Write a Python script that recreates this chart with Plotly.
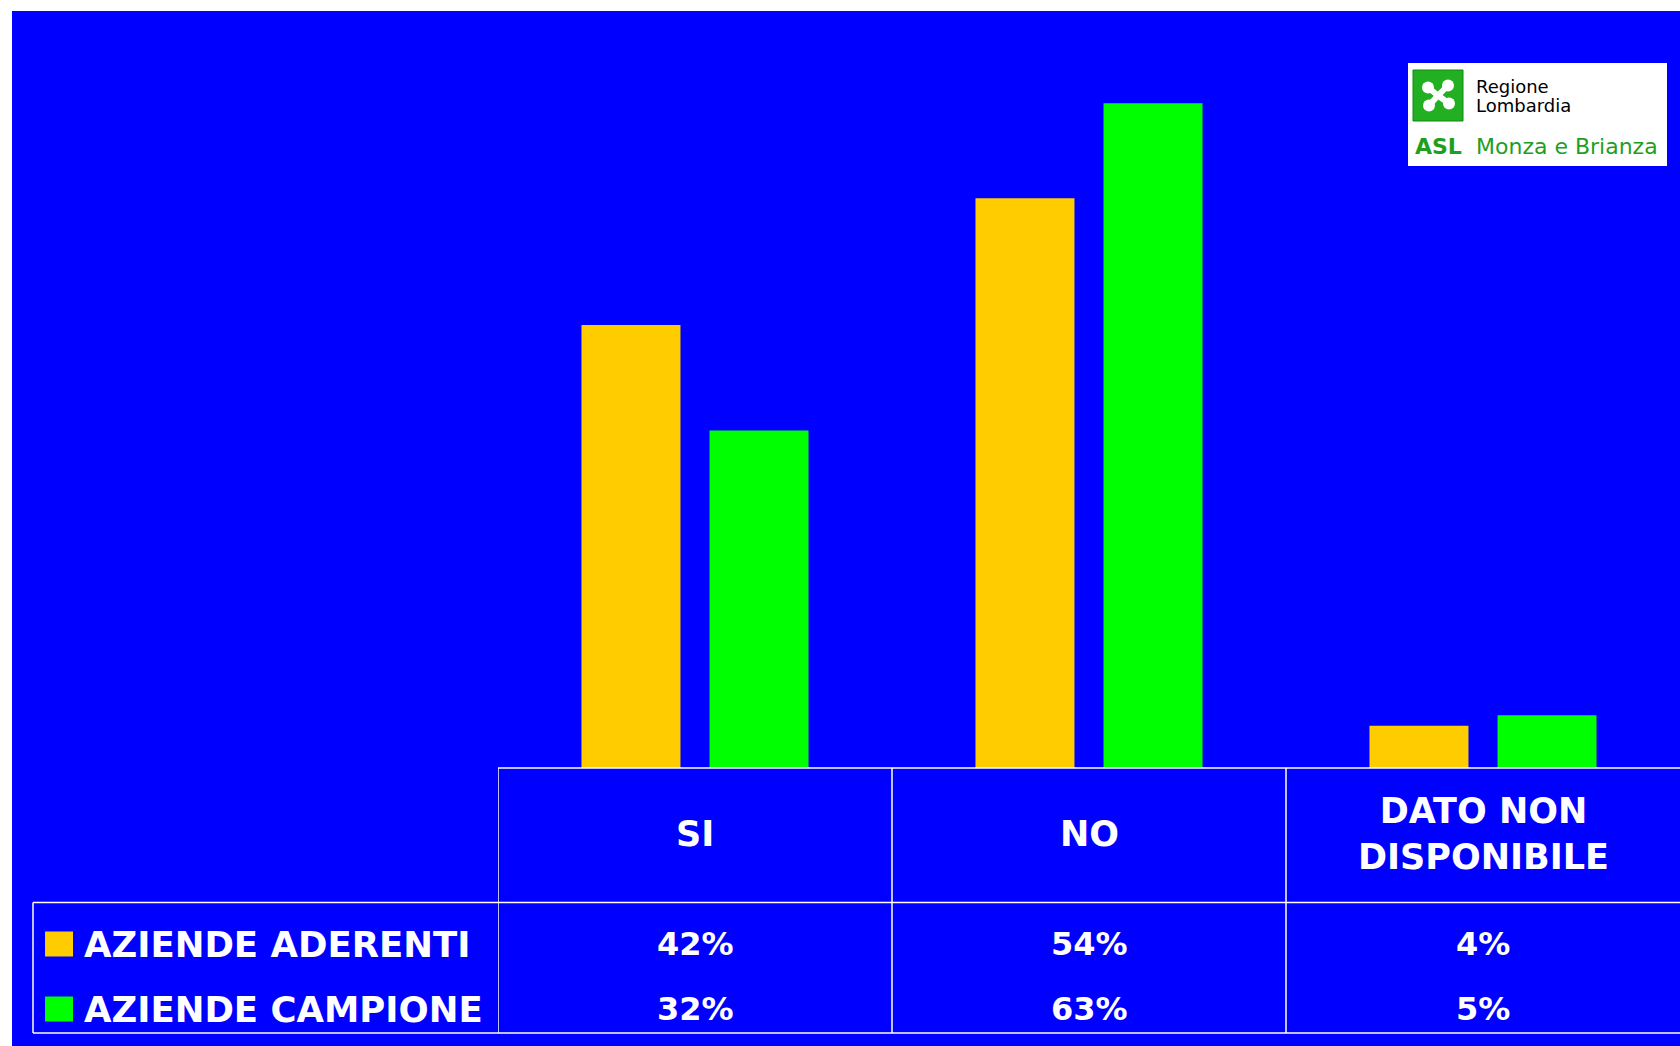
import plotly.graph_objects as go

# ---- data ----
categories = ["SI", "NO", "DATO NON<br>DISPONIBILE"]
series_names = ["AZIENDE ADERENTI", "AZIENDE CAMPIONE"]
aderenti = [42, 54, 4]
campione = [32, 63, 5]

W, H = 1680, 1046
BLUE = "#0000FF"
YELLOW = "#FFCC00"
GREEN = "#00FF00"
FONT = "Comic Sans MS, DejaVu Sans, sans-serif"

def px(x):
    return x / W

def py(y):
    return 1 - y / H

# plot area in pixels
PL, PR, PT, PB = 498, 1680, 11, 768
PX_PER_UNIT = 10.55
ymax = (PB - PT) / PX_PER_UNIT

fig = go.Figure()
fig.add_trace(go.Bar(x=categories, y=aderenti, name=series_names[0],
                     marker=dict(color=YELLOW, line=dict(width=0)), showlegend=False))
fig.add_trace(go.Bar(x=categories, y=campione, name=series_names[1],
                     marker=dict(color=GREEN, line=dict(width=0)), showlegend=False))

shapes = []
annotations = []

# blue background panel
shapes.append(dict(type="rect", xref="paper", yref="paper", x0=px(12), x1=px(W), y0=py(H), y1=py(11),
                   fillcolor=BLUE, line=dict(width=0), layer="below"))

LC = "white"
LW = 1.5
# horizontal table lines
shapes.append(dict(type="line", xref="paper", yref="paper", x0=px(PL), x1=1, y0=py(768), y1=py(768),
                   line=dict(color=LC, width=LW)))
for yy in (902.5, 1033):
    shapes.append(dict(type="line", xref="paper", yref="paper", x0=px(33), x1=1, y0=py(yy), y1=py(yy),
                       line=dict(color=LC, width=LW)))
# vertical lines
shapes.append(dict(type="line", xref="paper", yref="paper", x0=px(33), x1=px(33), y0=py(902.5), y1=py(1033),
                   line=dict(color=LC, width=LW)))
for i in range(len(categories)):
    shapes.append(dict(type="line", xref="x", yref="paper", x0=i - 0.5, x1=i - 0.5, y0=py(768), y1=py(1033),
                       line=dict(color=LC, width=LW)))

# header labels
for i, c in enumerate(categories):
    annotations.append(dict(x=i, xref="x", y=py(834), yref="paper", text="<b>" + c + "</b>",
                            showarrow=False, xanchor="center", yanchor="middle",
                            font=dict(family=FONT, size=35, color="white")))

# value rows
row_y = [944, 1009]
for vals, ry in zip([aderenti, campione], row_y):
    for i, v in enumerate(vals):
        annotations.append(dict(x=i, xref="x", y=py(ry), yref="paper", text=f"<b>{v}%</b>",
                                showarrow=False, xanchor="center", yanchor="middle",
                                font=dict(family=FONT, size=32, color="white")))

# legend in table
for name, col, ry in zip(series_names, [YELLOW, GREEN], row_y):
    shapes.append(dict(type="rect", xref="paper", yref="paper", x0=px(45), x1=px(73),
                       y0=py(ry + 12.5), y1=py(ry - 12.5), fillcolor=col, line=dict(width=0)))
    annotations.append(dict(x=px(82), xref="paper", y=py(ry), yref="paper", text="<b>" + name + "</b>",
                            showarrow=False, xanchor="left", yanchor="middle",
                            font=dict(family=FONT, size=35.5, color="white")))

# logo
shapes.append(dict(type="rect", xref="paper", yref="paper", x0=px(1408), x1=px(1667), y0=py(166), y1=py(63),
                   fillcolor="white", line=dict(width=0)))
shapes.append(dict(type="rect", xref="paper", yref="paper", x0=px(1413), x1=px(1463), y0=py(121), y1=py(70),
                   fillcolor="#22B022", line=dict(color="#118811", width=1)))
cx, cy = 1438, 95.5
for dx, dy in [(-10, -8), (10, -10), (-9, 10), (11, 8)]:
    shapes.append(dict(type="line", xref="paper", yref="paper", x0=px(cx), x1=px(cx + dx), y0=py(cy), y1=py(cy + dy),
                       line=dict(color="white", width=6)))
    shapes.append(dict(type="circle", xref="paper", yref="paper", x0=px(cx + dx - 6), x1=px(cx + dx + 6),
                       y0=py(cy + dy + 6), y1=py(cy + dy - 6), fillcolor="white", line=dict(width=0)))
annotations.append(dict(x=px(1474), xref="paper", y=py(86), yref="paper", text="Regione",
                        showarrow=False, xanchor="left", yanchor="middle",
                        font=dict(family="DejaVu Sans", size=18, color="black")))
annotations.append(dict(x=px(1474), xref="paper", y=py(105), yref="paper", text="Lombardia",
                        showarrow=False, xanchor="left", yanchor="middle",
                        font=dict(family="DejaVu Sans", size=18, color="black")))
annotations.append(dict(x=px(1413), xref="paper", y=py(147), yref="paper", text="<b>ASL</b>",
                        showarrow=False, xanchor="left", yanchor="middle",
                        font=dict(family="DejaVu Sans", size=22, color="#1EA01E")))
annotations.append(dict(x=px(1474), xref="paper", y=py(147), yref="paper", text="Monza e Brianza",
                        showarrow=False, xanchor="left", yanchor="middle",
                        font=dict(family="DejaVu Sans", size=22, color="#1EA01E")))

fig.update_layout(
    width=W, height=H,
    margin=dict(l=0, r=0, t=0, b=0),
    paper_bgcolor="white",
    plot_bgcolor="rgba(0,0,0,0)",
    barmode="group",
    bargap=0.35,
    bargroupgap=0.227,
    showlegend=False,
    xaxis=dict(domain=[px(PL), 1], showgrid=False, zeroline=False, showticklabels=False,
               showline=False, ticks="", range=[-0.5, len(categories) - 0.5]),
    yaxis=dict(domain=[py(PB), py(PT)], range=[0, ymax], showgrid=False, zeroline=False,
               showticklabels=False, showline=False, ticks=""),
    shapes=shapes,
    annotations=annotations,
)

fig.write_html("out.html", config={"displayModeBar": False},
               post_script="document.body.style.margin='0px';document.body.style.overflow='hidden';")
